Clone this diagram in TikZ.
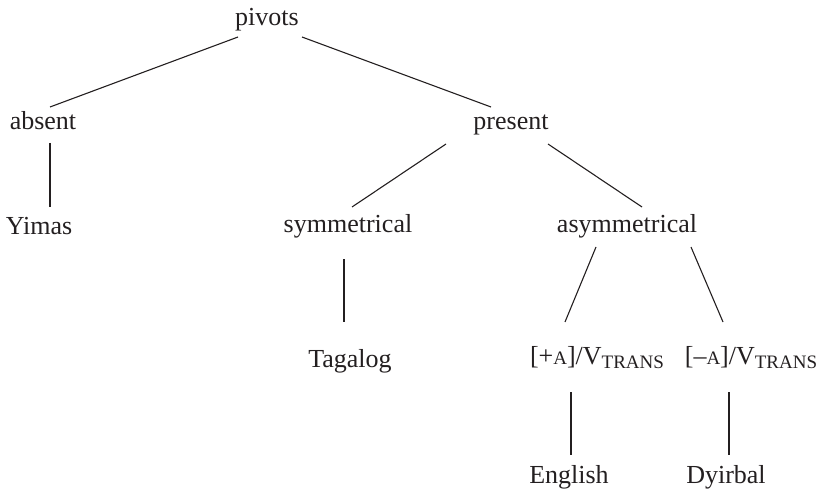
\documentclass[tikz,border=0pt]{standalone}
\usepackage{fontspec}
\setmainfont{Liberation Serif}
\newcommand\mysc[1]{{\fontsize{19pt}{19pt}\selectfont #1}}
\definecolor{ink}{RGB}{35,31,32}
\begin{document}
\begin{tikzpicture}[x=1pt,y=-1pt,
  lbl/.style={anchor=base,inner sep=0pt,text=ink,font=\fontsize{26pt}{30pt}\selectfont},
  edge/.style={draw=ink,line width=1.1pt}]
\useasboundingbox (0,0) rectangle (822,489);
\node[lbl] (pivots) at (267,26) {pivots};
\node[lbl] (absent) at (43,130) {absent};
\node[lbl] (present) at (511,130) {present};
\node[lbl] (yimas) at (39,235) {Yimas};
\node[lbl] (symm) at (348,233) {symmetrical};
\node[lbl] (asym) at (627,233) {asymmetrical};
\node[lbl] (tagalog) at (350,367) {Tagalog};
\node[lbl] (plusA) at (597,364) {[+\mysc{A}]/V\raisebox{-4pt}{\mysc{TRANS}}};
\node[lbl] (minusA) at (751,364) {[\textendash\mysc{A}]/V\raisebox{-4pt}{\mysc{TRANS}}};
\node[lbl] (english) at (569,483) {English};
\node[lbl] (dyirbal) at (726,483) {Dyirbal};
\draw[edge] ([shift={(-29,11)}]pivots.base) -- ([shift={(7,-23)}]absent.base);
\draw[edge] ([shift={(35,11)}]pivots.base) -- ([shift={(-20,-23)}]present.base);
\draw[edge] ([shift={(7,13)}]absent.base) -- ([shift={(11,-28)}]yimas.base);
\draw[edge] ([shift={(-65,14)}]present.base) -- ([shift={(4,-26)}]symm.base);
\draw[edge] ([shift={(37,14)}]present.base) -- ([shift={(15,-26)}]asym.base);
\draw[edge] ([shift={(-4,26)}]symm.base) -- ([shift={(-6,-45)}]tagalog.base);
\draw[edge] ([shift={(-31,14)}]asym.base) -- ([shift={(-32,-42)}]plusA.base);
\draw[edge] ([shift={(64,14)}]asym.base) -- ([shift={(-28,-42)}]minusA.base);
\draw[edge] ([shift={(-26,28)}]plusA.base) -- ([shift={(2,-28)}]english.base);
\draw[edge] ([shift={(-22,28)}]minusA.base) -- ([shift={(3,-28)}]dyirbal.base);
\end{tikzpicture}
\end{document}
